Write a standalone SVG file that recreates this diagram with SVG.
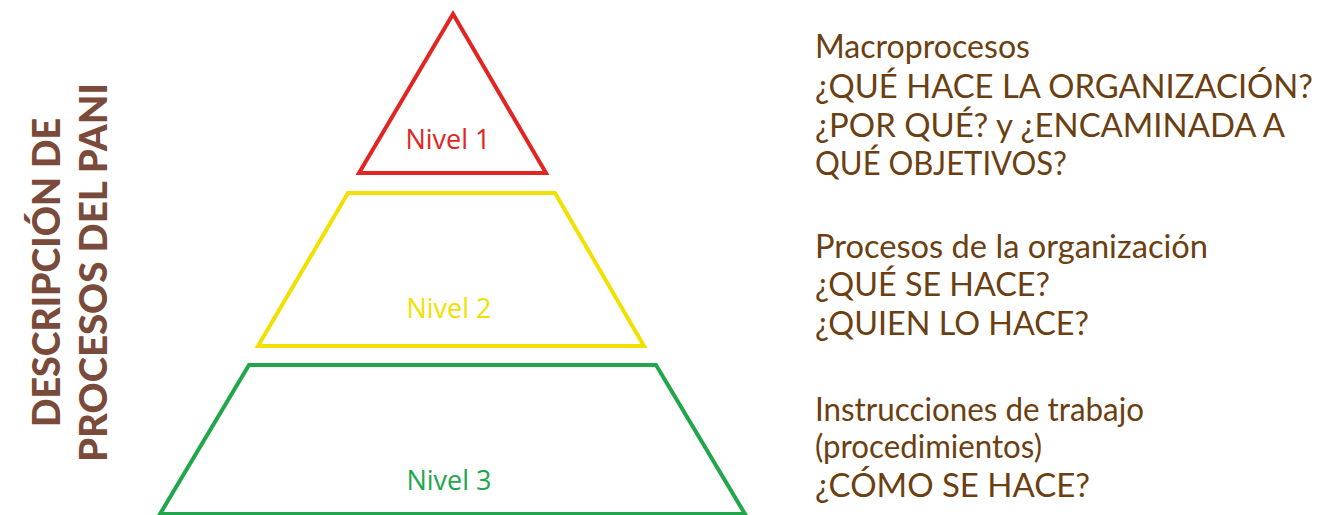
<svg xmlns="http://www.w3.org/2000/svg" width="1321" height="515" viewBox="0 0 1321 515">
<style>
.lvl{fill:none;stroke-width:4;stroke-linejoin:miter}
.nl{font-family:"Open Sans","Noto Sans",sans-serif;font-size:27px;text-anchor:middle}
.rt{font-family:Lato,"Noto Sans",sans-serif;font-size:32px;fill:#6b3f12}
.vt{font-family:Lato,"Open Sans",sans-serif;font-weight:900;font-size:37px;fill:#7a4a3b}
</style>
<rect width="1321" height="515" fill="#ffffff"/>
<g id="title">
<text class="vt" transform="translate(60,427) rotate(-90)" textLength="309" lengthAdjust="spacingAndGlyphs">DESCRIPCIÓN DE</text>
<text class="vt" transform="translate(107,462) rotate(-90)" textLength="379" lengthAdjust="spacingAndGlyphs">PROCESOS DEL PANI</text>
</g>
<g id="nivel1">
<polygon class="lvl" points="453,14 359,173 546,173" stroke="#e32522"/>
<text class="nl" x="448" y="149" fill="#e32522">Nivel 1</text>
</g>
<g id="nivel2">
<polygon class="lvl" points="348,193 555,193 644,346 258,346" stroke="#f0e100"/>
<text class="nl" x="449" y="318" fill="#f0e100">Nivel 2</text>
</g>
<g id="nivel3">
<polygon class="lvl" points="249,365 656,365 745,514 160,514" stroke="#22a64c"/>
<text class="nl" x="449" y="490" fill="#22a64c">Nivel 3</text>
</g>
<g id="desc1">
<text class="rt" x="815" y="58" textLength="215" lengthAdjust="spacingAndGlyphs">Macroprocesos</text>
<text class="rt" x="815" y="98" textLength="498" lengthAdjust="spacingAndGlyphs">¿QUÉ HACE LA ORGANIZACIÓN?</text>
<text class="rt" x="815" y="137" textLength="470" lengthAdjust="spacingAndGlyphs">¿POR QUÉ? y ¿ENCAMINADA A</text>
<text class="rt" x="815" y="175" textLength="252" lengthAdjust="spacingAndGlyphs">QUÉ OBJETIVOS?</text>
</g>
<g id="desc2">
<text class="rt" x="815" y="258" textLength="393" lengthAdjust="spacingAndGlyphs">Procesos de la organización</text>
<text class="rt" x="815" y="296" textLength="235" lengthAdjust="spacingAndGlyphs">¿QUÉ SE HACE?</text>
<text class="rt" x="815" y="335" textLength="274" lengthAdjust="spacingAndGlyphs">¿QUIEN LO HACE?</text>
</g>
<g id="desc3">
<text class="rt" x="815" y="421" textLength="329" lengthAdjust="spacingAndGlyphs">Instrucciones de trabajo</text>
<text class="rt" x="815" y="458" textLength="227" lengthAdjust="spacingAndGlyphs">(procedimientos)</text>
<text class="rt" x="815" y="497" textLength="275" lengthAdjust="spacingAndGlyphs">¿CÓMO SE HACE?</text>
</g>
<g id="connectors"></g>
</svg>
